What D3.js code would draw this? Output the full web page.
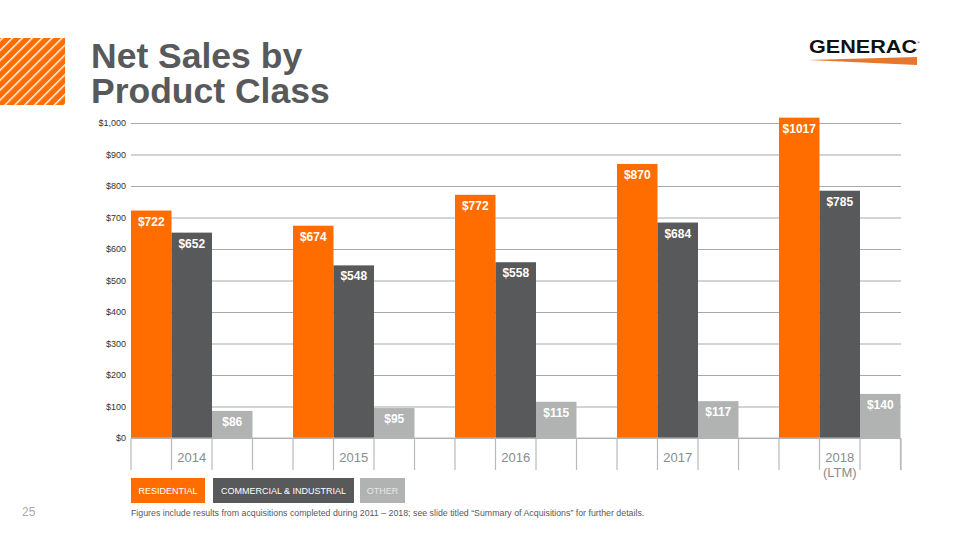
<!DOCTYPE html>
<html><head><meta charset="utf-8">
<script src="https://cdn.jsdelivr.net/npm/d3@7"></script>
<style>body{margin:0;background:#fff}svg{display:block}</style>
</head><body>
<svg id="c" width="959" height="540"></svg>
<script>
const years = ["2014","2015","2016","2017","2018"];
const yearLabels = [["2014"],["2015"],["2016"],["2017"],["2018","(LTM)"]];
const seriesNames = ["RESIDENTIAL","COMMERCIAL & INDUSTRIAL","OTHER"];
const residential = [722,674,772,870,1017];
const commercial = [652,548,558,684,785];
const other = [86,95,115,117,140];
const yTicks = [0,100,200,300,400,500,600,700,800,900,1000];
const colors = ["#ff6d00","#58595b","#b1b3b3"];

(function(){
const svg = d3.select("#c");
const pLeft=131, pRight=901, pTop=123, pBottom=438;
const groupW = 162;
const x0 = d3.scaleBand().domain(years).range([pLeft, pLeft+groupW*years.length]);
const x1 = d3.scaleBand().domain([0,1,2,3]).range([0, groupW]);
const y = d3.scaleLinear().domain([0,1000]).range([pBottom, pTop]);

// hatch pattern
const defs = svg.append("defs");
const pat = defs.append("pattern").attr("id","hatch").attr("patternUnits","userSpaceOnUse")
  .attr("width",7).attr("height",7).attr("patternTransform","rotate(45)");
pat.append("rect").attr("width",7).attr("height",7).attr("fill","#ff6d00");
pat.append("rect").attr("x",0).attr("width",1.4).attr("height",7).attr("fill","#fff");
svg.append("rect").attr("x",0).attr("y",38).attr("width",65).attr("height",67).attr("fill","url(#hatch)");

// title
const title = svg.append("text").attr("x",92).attr("font-family","Liberation Sans, Arial, sans-serif")
  .attr("font-weight","bold").attr("font-size",35.5).attr("fill","#58595b");
title.append("tspan").attr("x",91).attr("y",68).text("Net Sales by");
title.append("tspan").attr("x",91).attr("y",103).text("Product Class");

// logo
svg.append("text").attr("x",809).attr("y",53).attr("font-family","Liberation Sans, Arial, sans-serif")
  .attr("font-weight","bold").attr("font-size",18).attr("fill","#111")
  .attr("textLength",108).attr("lengthAdjust","spacingAndGlyphs").text("GENERAC");
svg.append("text").attr("x",917).attr("y",44).attr("font-size",4).attr("fill","#111").text("®");
svg.append("path").attr("d","M808,60 L917,57 L917,65 Z").attr("fill","#e8772e");

// gridlines
const yAxis = d3.axisLeft(y).tickValues(yTicks).tickSize(-(pRight-pLeft)).tickPadding(6)
  .tickFormat(d=> "$"+d3.format(",")(d));
const gy = svg.append("g").attr("transform",`translate(${pLeft},0)`).call(yAxis);
gy.select(".domain").remove();
gy.selectAll(".tick line").attr("stroke","#a7a9ac").attr("stroke-width",1.2);
gy.selectAll(".tick text").attr("font-family","Liberation Sans, Arial, sans-serif").attr("font-size",9).attr("fill","#333").attr("x",-5);

// bars
const seriesVals = [residential, commercial, other];
const barData = [];
years.forEach((yr,i)=>seriesVals.forEach((s,j)=>barData.push({yr,j,v:s[i]})));
svg.append("g").selectAll("rect").data(barData).join("rect")
  .attr("x",d=>x0(d.yr)+x1(d.j)).attr("width",x1.bandwidth())
  .attr("y",d=>y(d.v)).attr("height",d=>y(0)-y(d.v)).attr("fill",d=>colors[d.j]);
svg.append("g").selectAll("text").data(barData).join("text")
  .attr("x",d=>x0(d.yr)+x1(d.j)+x1.bandwidth()/2).attr("y",d=>y(d.v)+15)
  .attr("text-anchor","middle").attr("font-family","Liberation Sans Narrow, Liberation Sans, Arial, sans-serif")
  .attr("font-weight","bold").attr("font-size",12).attr("fill","#fff").text(d=>"$"+d.v);

// bottom separators
const seps = [];
years.forEach((yr,i)=>{for(let k=0;k<4;k++){const xx=x0(yr)+x1(k); if(xx<=pRight+1) seps.push(xx);}});
seps.push(pRight);
svg.append("g").selectAll("line").data(seps).join("line")
  .attr("x1",d=>d).attr("x2",d=>d).attr("y1",pBottom).attr("y2",470)
  .attr("stroke","#b7b9bb").attr("stroke-width",1.2);
svg.append("line").attr("x1",pLeft).attr("x2",pRight).attr("y1",pBottom).attr("y2",pBottom).attr("stroke","#b7b9bb").attr("stroke-width",1.2);

// year labels
const yl = svg.append("g").selectAll("text").data(years).join("text")
  .attr("x",d=>x0(d)+x1(1)+x1.bandwidth()/2).attr("y",462).attr("text-anchor","middle")
  .attr("font-family","Liberation Sans, Arial, sans-serif").attr("font-size",13).attr("fill","#8a8c8e");
yl.each(function(d,i){
  const t=d3.select(this);
  yearLabels[i].forEach((s,k)=>t.append("tspan").attr("x",x0(d)+x1(1)+x1.bandwidth()/2).attr("dy",k?15:0).text(s));
});

// legend
const legX = [131,213,360], legW=[74,141,45];
const lg = svg.append("g").selectAll("g").data(seriesNames).join("g");
lg.append("rect").attr("x",(d,i)=>legX[i]).attr("y",478).attr("width",(d,i)=>legW[i]).attr("height",25).attr("fill",(d,i)=>colors[i]);
lg.append("text").attr("x",(d,i)=>legX[i]+legW[i]/2).attr("y",494).attr("text-anchor","middle")
  .attr("font-family","Liberation Sans, Arial, sans-serif").attr("font-size",9).attr("fill",(d,i)=>i==2?"#e6e7e8":"#fff").text(d=>d);

// footer
svg.append("text").attr("x",22).attr("y",516).attr("font-family","Liberation Sans, Arial, sans-serif").attr("font-size",12).attr("fill","#a7a9ac").text("25");
svg.append("text").attr("x",131).attr("y",516).attr("font-family","Liberation Sans, Arial, sans-serif").attr("font-size",8.8).attr("fill","#58595b")
  .text("Figures include results from acquisitions completed during 2011 – 2018; see slide titled “Summary of Acquisitions” for further details.");
})();
</script>
</body></html>
